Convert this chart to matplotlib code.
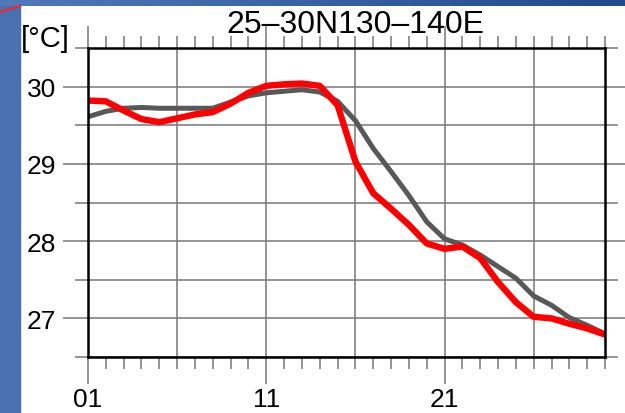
import matplotlib
matplotlib.use("Agg")
import matplotlib.pyplot as plt
import numpy as np
from matplotlib.patches import Rectangle
from matplotlib.lines import Line2D
from matplotlib.colors import LinearSegmentedColormap

plt.rcParams['font.family'] = ['Liberation Sans', 'DejaVu Sans']

# data (daily values, days 1..30)
days = list(range(1, 31))
gray_t = [29.61, 29.68, 29.72, 29.73, 29.72, 29.72, 29.72, 29.72, 29.80, 29.88,
          29.92, 29.94, 29.96, 29.93, 29.81, 29.56, 29.20, 28.90, 28.59, 28.25,
          28.03, 27.95, 27.82, 27.67, 27.52, 27.29, 27.17, 27.01, 26.91, 26.80]
red_t = [29.82, 29.81, 29.69, 29.58, 29.54, 29.59, 29.64, 29.67, 29.78, 29.92,
         30.01, 30.03, 30.04, 30.01, 29.76, 29.03, 28.62, 28.42, 28.21, 27.97,
         27.90, 27.93, 27.78, 27.47, 27.21, 27.02, 27.00, 26.93, 26.87, 26.79]
xlabel_days = [1, 11, 21]
xlabels = ['01', '11', '21']
grid_days = [1, 6, 11, 16, 21, 26]
ymajor = [27, 28, 29, 30]
yminor = [26.5, 27.5, 28.5, 29.5, 30.5]
title = '25\u201330N130\u2013140E'
unit = '[\u00b0C]'

W, H = 625, 414
fig = plt.figure(figsize=(W / 100, H / 100), dpi=100)
fig.patch.set_facecolor('white')

# slide background bits
fig.add_artist(Rectangle((0, 0), 20 / W, 1, transform=fig.transFigure,
                         color='#4a70b2', zorder=0))
bg = fig.add_axes([0, 1 - 7 / H, 1, 7 / H])
grad = np.linspace(0, 1, 256).reshape(1, -1)
cm = LinearSegmentedColormap.from_list('b', ['#5279b9', '#1f4a8e'])
bg.imshow(grad, aspect='auto', cmap=cm, extent=[0, 1, 0, 1])
bg.axis('off')
fig.add_artist(Line2D([0, 20 / W], [1 - 13 / H, 1 - 7 / H], transform=fig.transFigure,
                      color='#ff2020', lw=1.5))

ax = fig.add_axes([88 / W, 56 / H, 517 / W, 309 / H])
gc = '#777777'

ax.plot(days, gray_t, color='#585858', lw=3.6, solid_joinstyle='round', zorder=3)
ax.plot(days, red_t, color='#ff0000', lw=4.6, solid_joinstyle='round', zorder=4)

ax.set_xlim(1, 30)
ax.set_ylim(26.5, 30.5)

ax.set_xticks(xlabel_days)
ax.set_xticklabels(xlabels)
ax.set_xticks(days, minor=True)
ax.set_yticks(ymajor)
ax.set_yticklabels([str(v) for v in ymajor])
ax.set_yticks(yminor, minor=True)

ax.tick_params(axis='x', which='major', direction='out', length=19.5, width=1.1,
               color=gc, top=True, bottom=True, labelsize=19, pad=2)
ax.tick_params(axis='x', which='minor', direction='out', length=8.6, width=1.1,
               color=gc, top=True, bottom=True)
ax.tick_params(axis='y', which='major', direction='out', length=18, width=1.1,
               color=gc, left=True, right=True, labelsize=19, pad=5)
ax.tick_params(axis='y', which='minor', direction='out', length=9.4, width=1.1,
               color=gc, left=True, right=True)
for t in ax.xaxis.get_major_ticks():
    t.tick2line.set_markersize(16)
for t in ax.yaxis.get_major_ticks():
    t.tick2line.set_markersize(14.5)

ax.grid(axis='y', which='both', color=gc, lw=1.1, zorder=1)
for d in grid_days:
    ax.axvline(d, color=gc, lw=1.1, zorder=1)

for s in ax.spines.values():
    s.set_linewidth(1.8)
    s.set_color('black')
    s.set_zorder(5)

fig.text(355 / W, 1 - 33 / H, title, ha='center', va='baseline', fontsize=23)
fig.text(21 / W, 1 - 47 / H, unit, ha='left', va='baseline', fontsize=21)

fig.savefig('out.png', dpi=100)
